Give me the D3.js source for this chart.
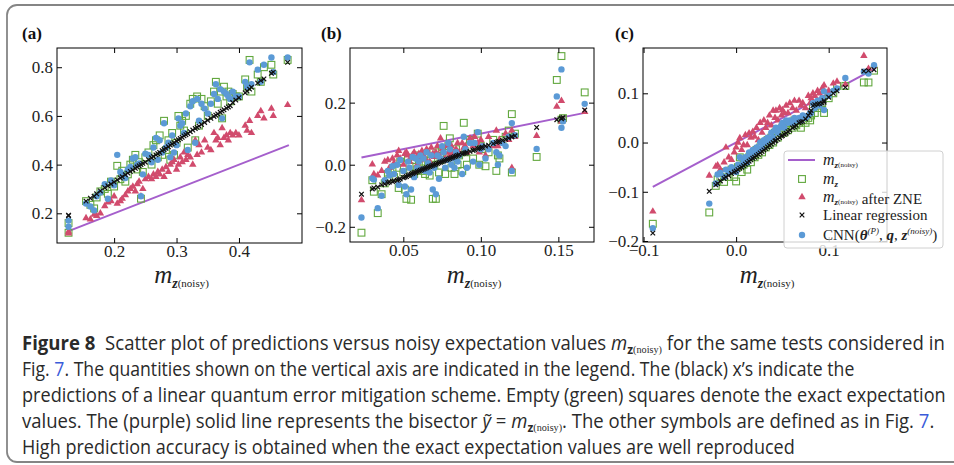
<!DOCTYPE html>
<html lang="en">
<head>
<meta charset="UTF-8" />
<title>Figure 8</title>
<script src="https://cdn.jsdelivr.net/npm/d3@7"></script>
<style>
  body { margin: 0; background: #fff; }
  svg { display: block; }
  text { white-space: pre; }
</style>
</head>
<body>
<svg id="fig" width="954" height="465"></svg>
<script>
// ---- panel (a) ----
const aNoisy = [0.127,0.127,0.155,0.162,0.168,0.172,0.178,0.185,0.190,0.195,0.200,0.205,0.210,0.213,0.218,0.222,0.226,0.230,0.234,0.237,0.240,0.243,0.246,0.250,0.255,0.260,0.263,0.267,0.270,0.273,0.277,0.280,0.283,0.287,0.290,0.293,0.296,0.300,0.303,0.306,0.309,0.312,0.315,0.318,0.322,0.326,0.330,0.333,0.336,0.340,0.345,0.350,0.355,0.360,0.363,0.366,0.370,0.373,0.376,0.380,0.383,0.386,0.390,0.395,0.400,0.410,0.413,0.417,0.420,0.430,0.435,0.440,0.452,0.455,0.478]
const aExact = [0.160,0.120,0.250,0.235,0.220,0.265,0.290,0.300,0.280,0.330,0.310,0.395,0.340,0.375,0.330,0.360,0.400,0.420,0.440,0.380,0.410,0.260,0.370,0.430,0.450,0.400,0.480,0.500,0.430,0.520,0.440,0.580,0.460,0.500,0.420,0.530,0.440,0.490,0.600,0.560,0.580,0.540,0.600,0.470,0.650,0.670,0.500,0.680,0.560,0.670,0.640,0.600,0.660,0.700,0.740,0.650,0.700,0.590,0.720,0.680,0.700,0.660,0.690,0.680,0.680,0.750,0.720,0.830,0.700,0.770,0.740,0.800,0.810,0.770,0.830]
const aZne = [0.125,0.118,0.180,0.175,0.195,0.190,0.200,0.230,0.245,0.250,0.270,0.240,0.250,0.260,0.275,0.290,0.300,0.310,0.290,0.320,0.330,0.270,0.300,0.340,0.350,0.340,0.360,0.350,0.370,0.360,0.380,0.350,0.390,0.370,0.400,0.410,0.420,0.380,0.400,0.430,0.410,0.450,0.420,0.440,0.430,0.400,0.500,0.440,0.480,0.450,0.500,0.470,0.460,0.530,0.500,0.510,0.480,0.550,0.510,0.520,0.500,0.530,0.520,0.530,0.520,0.560,0.540,0.580,0.530,0.600,0.620,0.590,0.630,0.600,0.645]
const aLinear = [0.190,0.192,0.250,0.262,0.270,0.280,0.292,0.305,0.313,0.320,0.328,0.337,0.345,0.350,0.358,0.365,0.372,0.378,0.385,0.390,0.395,0.400,0.405,0.410,0.420,0.428,0.433,0.440,0.445,0.450,0.457,0.462,0.467,0.473,0.480,0.485,0.490,0.497,0.502,0.507,0.512,0.518,0.523,0.528,0.535,0.542,0.548,0.553,0.558,0.565,0.573,0.582,0.590,0.598,0.603,0.608,0.615,0.620,0.625,0.632,0.637,0.642,0.655,0.665,0.675,0.695,0.702,0.710,0.718,0.735,0.745,0.752,0.775,0.780,0.820]
const aCnn = [0.170,0.145,0.240,0.228,0.212,0.270,0.285,0.320,0.260,0.335,0.315,0.440,0.370,0.360,0.345,0.380,0.390,0.425,0.430,0.400,0.405,0.270,0.360,0.445,0.440,0.410,0.470,0.510,0.420,0.500,0.450,0.570,0.470,0.490,0.430,0.520,0.450,0.480,0.590,0.560,0.570,0.530,0.610,0.460,0.640,0.660,0.490,0.670,0.580,0.650,0.630,0.610,0.650,0.690,0.730,0.670,0.710,0.590,0.700,0.690,0.680,0.670,0.700,0.680,0.680,0.740,0.720,0.820,0.730,0.790,0.740,0.810,0.840,0.780,0.840]
const aBisector = [0.127, 0.480]
const aXTicks = [0.2, 0.3, 0.4]
const aYTicks = [0.2, 0.4, 0.6, 0.8]

// ---- panel (b) ----
const bNoisy = [0.023,0.030,0.031,0.0335,0.036,0.038,0.040,0.041,0.043,0.044,0.046,0.047,0.048,0.050,0.051,0.052,0.053,0.054,0.055,0.056,0.057,0.058,0.059,0.060,0.061,0.062,0.063,0.064,0.065,0.066,0.067,0.068,0.069,0.070,0.071,0.072,0.073,0.074,0.075,0.076,0.077,0.078,0.079,0.080,0.081,0.082,0.083,0.084,0.085,0.086,0.088,0.089,0.090,0.091,0.093,0.095,0.096,0.098,0.099,0.100,0.101,0.103,0.105,0.108,0.110,0.111,0.112,0.114,0.116,0.118,0.120,0.120,0.122,0.136,0.149,0.152,0.152,0.153,0.167]
const bExact = [-0.219,-0.050,-0.087,-0.156,-0.095,-0.060,-0.030,-0.045,-0.020,-0.040,-0.010,-0.075,0.010,-0.025,-0.080,-0.110,0.020,-0.005,-0.113,0.015,-0.030,0.030,-0.015,0.000,0.025,-0.020,0.010,-0.030,0.035,0.000,-0.035,0.020,-0.110,0.000,-0.110,0.040,-0.025,0.015,0.050,0.125,-0.030,0.020,0.060,0.085,-0.010,0.030,-0.030,0.050,0.000,0.030,-0.020,0.135,0.040,0.000,0.080,0.020,0.060,0.100,0.000,0.060,0.050,-0.005,0.040,0.080,-0.020,0.030,0.020,0.080,0.090,0.110,0.163,-0.025,0.100,0.025,0.273,0.350,0.145,0.150,0.233]
const bZne = [-0.114,0.001,-0.030,-0.034,-0.020,0.010,0.015,-0.010,0.020,0.005,0.030,0.045,0.020,0.000,0.035,0.040,0.030,0.010,0.025,0.030,0.040,0.020,0.000,0.035,0.015,0.045,0.030,0.020,0.050,0.040,0.010,0.055,0.035,0.025,0.040,0.060,0.030,0.085,0.050,0.040,0.020,0.060,0.040,0.030,0.060,0.040,0.030,0.050,0.070,0.040,0.070,0.055,0.060,0.040,0.085,0.060,0.090,0.070,0.040,0.080,0.060,0.030,0.090,0.060,0.110,0.060,0.080,0.070,0.100,0.080,-0.010,0.110,0.090,0.093,0.187,0.206,0.140,0.145,0.170]
const bLinear = [-0.095,-0.078,-0.075,-0.072,-0.065,-0.062,-0.058,-0.056,-0.054,-0.052,-0.050,-0.048,-0.046,-0.042,-0.040,-0.038,-0.035,-0.033,-0.030,-0.028,-0.026,-0.025,-0.022,-0.020,-0.018,-0.016,-0.014,-0.012,-0.010,-0.008,-0.006,-0.004,-0.002,0.000,0.002,0.004,0.006,0.008,0.010,0.012,0.014,0.016,0.018,0.020,0.022,0.024,0.026,0.028,0.030,0.032,0.035,0.037,0.038,0.040,0.043,0.046,0.048,0.052,0.053,0.055,0.056,0.060,0.063,0.068,0.072,0.074,0.075,0.078,0.082,0.086,0.090,0.090,0.093,0.120,0.145,0.150,0.148,0.152,0.176]
const bCnn = [-0.170,-0.044,-0.048,-0.140,-0.100,-0.050,-0.020,-0.035,-0.005,-0.030,0.000,-0.065,0.015,-0.020,-0.070,-0.095,0.010,-0.010,-0.080,0.025,-0.040,0.020,-0.010,0.010,0.030,-0.015,0.020,-0.020,0.040,0.005,-0.025,0.030,-0.080,-0.010,-0.095,0.030,-0.045,0.020,0.060,0.040,-0.010,0.015,0.070,0.050,0.000,0.020,-0.010,0.040,0.010,0.030,-0.030,0.090,0.050,-0.010,0.070,0.010,0.070,0.105,0.000,0.050,0.060,0.020,0.050,0.070,0.040,0.000,0.030,0.070,0.060,0.090,0.134,-0.020,0.095,0.051,0.220,0.307,0.119,0.140,0.196]
const bBisector = [0.023, 0.167]
const bXTicks = [0.05, 0.10, 0.15]
const bYTicks = [-0.2, 0.0, 0.2]

// ---- panel (c) ----
const cNoisy = [-0.090,-0.029,-0.022,-0.020,-0.017,-0.013,-0.011,-0.008,-0.005,-0.002,0.000,0.002,0.004,0.006,0.008,0.010,0.012,0.014,0.016,0.018,0.020,0.022,0.024,0.026,0.028,0.030,0.032,0.034,0.036,0.038,0.040,0.042,0.043,0.045,0.047,0.049,0.050,0.052,0.054,0.056,0.058,0.061,0.063,0.065,0.068,0.070,0.072,0.075,0.078,0.080,0.081,0.083,0.085,0.088,0.090,0.093,0.095,0.095,0.100,0.105,0.109,0.118,0.138,0.143,0.149]
const cExact = [-0.165,-0.142,-0.088,-0.075,-0.070,-0.080,-0.060,-0.070,-0.055,-0.070,-0.079,-0.050,-0.030,-0.060,-0.045,-0.040,-0.055,-0.030,-0.040,-0.025,-0.030,-0.015,-0.025,-0.010,-0.020,0.000,-0.010,0.005,-0.005,0.010,0.000,0.020,0.015,0.010,0.025,0.020,0.030,0.020,0.035,0.025,0.040,0.030,0.045,0.035,0.040,0.030,0.045,0.040,0.050,0.045,0.055,0.070,0.060,0.075,0.070,0.080,0.060,0.095,0.090,0.100,0.115,0.115,0.122,0.122,0.146]
const cZne = [-0.140,-0.067,-0.049,-0.046,-0.055,-0.040,-0.010,-0.030,-0.035,-0.020,-0.010,0.000,0.009,-0.015,-0.005,0.015,-0.005,0.019,0.010,0.022,0.012,0.030,0.005,0.040,0.020,0.045,0.030,0.040,0.055,0.035,0.065,0.050,0.065,0.045,0.070,0.055,0.066,0.060,0.075,0.060,0.080,0.070,0.085,0.065,0.085,0.075,0.080,0.070,0.095,0.080,0.090,0.100,0.095,0.105,0.100,0.110,0.116,0.105,0.105,0.120,0.124,0.118,0.176,0.150,0.155]
const cLinear = [-0.184,-0.099,-0.086,-0.083,-0.078,-0.073,-0.070,-0.067,-0.063,-0.060,-0.058,-0.055,-0.052,-0.050,-0.047,-0.044,-0.041,-0.038,-0.035,-0.032,-0.030,-0.027,-0.024,-0.021,-0.018,-0.015,-0.012,-0.009,-0.006,-0.003,0.000,0.003,0.004,0.007,0.010,0.013,0.014,0.017,0.019,0.022,0.025,0.030,0.032,0.035,0.040,0.042,0.043,0.048,0.055,0.060,0.065,0.075,0.077,0.078,0.079,0.080,0.082,0.085,0.092,0.100,0.105,0.112,0.145,0.146,0.148]
const cCnn = [-0.174,-0.124,-0.083,-0.065,-0.062,-0.070,-0.055,-0.060,-0.050,-0.055,-0.060,-0.045,-0.030,-0.045,-0.035,-0.030,-0.040,-0.020,-0.030,-0.015,-0.020,-0.010,-0.015,0.000,-0.010,0.005,0.000,0.010,0.005,0.020,0.010,0.025,0.030,0.020,0.030,0.035,0.040,0.030,0.045,0.040,0.045,0.040,0.050,0.045,0.050,0.045,0.055,0.050,0.055,0.060,0.060,0.080,0.070,0.085,0.075,0.090,0.066,0.104,0.095,0.105,0.110,0.131,0.144,0.140,0.157]
const cBisector = [-0.090, 0.150]
const cXTicks = [-0.1, 0.0, 0.1]
const cYTicks = [-0.2, -0.1, 0.0, 0.1]

const legendLabels = ["bisector", "exact", "zne", "linear", "cnn"]

const purple = "#a55fcc", green = "#62a83e", red = "#d14b6d", blue = "#5b9ad6"
const serif = "'Liberation Serif', 'DejaVu Serif', serif"
const sans = "'Open Sans', 'Noto Sans', sans-serif"

const svg = d3.select("#fig")

// figure frame
svg.append("rect")
  .attr("x", 7).attr("y", 5).attr("width", 980).attr("height", 457)
  .attr("rx", 10).attr("fill", "none")
  .attr("stroke", "#858585").attr("stroke-width", 1.8)

// write a run of styled pieces into a text element
function pieces(text, parts) {
  parts.forEach(p => {
    const t = text.append("tspan").text(p.t)
    if (p.italic) t.attr("font-style", "italic")
    if (p.bold) t.attr("font-weight", "bold")
    if (p.size) t.attr("font-size", p.size)
    if (p.dy) t.attr("dy", p.dy)
    if (p.font) t.attr("font-family", p.font)
    if (p.fill) t.attr("fill", p.fill)
  })
  return text
}

function mNoisy(big, small, tiny) {
  return [
    { t: "m", italic: true, size: big },
    { t: "z", italic: true, bold: true, size: small, dy: big * 0.2 },
    { t: "(noisy)", size: tiny, dy: -big * 0.06 },
    { t: "", dy: -big * 0.14 }
  ]
}

function panel(o) {
  const x = d3.scaleLinear().domain(o.xDomain).range([o.left, o.right])
  const y = d3.scaleLinear().domain(o.yDomain).range([o.bottom, o.top])
  const g = svg.append("g")

  svg.append("clipPath").attr("id", "clip-" + o.name)
    .append("rect").attr("x", o.left).attr("y", o.top)
    .attr("width", o.right - o.left).attr("height", o.bottom - o.top)

  const plot = g.append("g").attr("clip-path", `url(#clip-${o.name})`)
  const rows = o.noisy.map((v, i) => ({
    x: v, exact: o.exact[i], zne: o.zne[i], lin: o.linear[i], cnn: o.cnn[i]
  }))

  plot.append("line")
    .attr("x1", x(o.bisector[0])).attr("y1", y(o.bisector[0]))
    .attr("x2", x(o.bisector[1])).attr("y2", y(o.bisector[1]))
    .attr("stroke", purple).attr("stroke-width", 2)

  plot.selectAll(".sq").data(rows).join("rect")
    .attr("x", d => x(d.x) - 3.4).attr("y", d => y(d.exact) - 3.4)
    .attr("width", 6.8).attr("height", 6.8)
    .attr("fill", "none").attr("stroke", green).attr("stroke-width", 1.1)

  const tri = d3.symbol().type(d3.symbolTriangle).size(24)
  plot.selectAll(".tri").data(rows).join("path")
    .attr("d", tri).attr("fill", red)
    .attr("transform", d => `translate(${x(d.x)},${y(d.zne)})`)

  plot.selectAll(".dot").data(rows).join("circle")
    .attr("cx", d => x(d.x)).attr("cy", d => y(d.cnn)).attr("r", 3.2)
    .attr("fill", blue)

  plot.selectAll(".xm").data(rows).join("path")
    .attr("d", "M-2.3,-2.3L2.3,2.3M-2.3,2.3L2.3,-2.3")
    .attr("stroke", "#111").attr("stroke-width", 1.2)
    .attr("transform", d => `translate(${x(d.x)},${y(d.lin)})`)

  // axes, ticks inward on all sides
  const styleAxis = a => {
    a.select(".domain").remove()
    a.selectAll("line").attr("stroke", "#000")
    a.selectAll("text").attr("font-family", serif).attr("font-size", 17).attr("fill", "#222")
  }
  g.append("g").attr("transform", `translate(0,${o.bottom})`)
    .call(d3.axisBottom(x).tickValues(o.xTicks).tickFormat(d3.format(o.xFmt))
      .tickSizeInner(-5).tickSizeOuter(0).tickPadding(2)).call(styleAxis)
  g.append("g").attr("transform", `translate(0,${o.top})`)
    .call(d3.axisTop(x).tickValues(o.xTicks).tickFormat("").tickSizeInner(-5).tickSizeOuter(0)).call(styleAxis)
  g.append("g").attr("transform", `translate(${o.left},0)`)
    .call(d3.axisLeft(y).tickValues(o.yTicks).tickFormat(d3.format(o.yFmt))
      .tickSizeInner(-5).tickSizeOuter(0).tickPadding(4)).call(styleAxis)
  g.append("g").attr("transform", `translate(${o.right},0)`)
    .call(d3.axisRight(y).tickValues(o.yTicks).tickFormat("").tickSizeInner(-5).tickSizeOuter(0)).call(styleAxis)

  g.append("rect")
    .attr("x", o.left).attr("y", o.top)
    .attr("width", o.right - o.left).attr("height", o.bottom - o.top)
    .attr("fill", "none").attr("stroke", "#000").attr("stroke-width", 1)

  pieces(g.append("text").attr("x", (o.left + o.right) / 2 + 2).attr("y", 283)
    .attr("text-anchor", "middle").attr("font-family", serif).attr("fill", "#222"),
    mNoisy(25, 14, 11))

  g.append("text").attr("x", o.labelX).attr("y", 39)
    .attr("font-family", serif).attr("font-weight", "bold").attr("font-size", 17)
    .attr("fill", "#111").text(o.label)
  return { x, y }
}

panel({ name: "a", label: "(a)", labelX: 22, left: 57, right: 302, top: 48, bottom: 243,
  xDomain: [0.1085, 0.501], yDomain: [0.078, 0.879], xTicks: aXTicks, yTicks: aYTicks,
  xFmt: ".1f", yFmt: ".1f", noisy: aNoisy, exact: aExact, zne: aZne, linear: aLinear,
  cnn: aCnn, bisector: aBisector })

panel({ name: "b", label: "(b)", labelX: 321, left: 350, right: 594, top: 48, bottom: 242,
  xDomain: [0.0156, 0.173], yDomain: [-0.249, 0.376], xTicks: bXTicks, yTicks: bYTicks,
  xFmt: ".2f", yFmt: ".1f", noisy: bNoisy, exact: bExact, zne: bZne, linear: bLinear,
  cnn: bCnn, bisector: bBisector })

panel({ name: "c", label: "(c)", labelX: 615, left: 643, right: 887, top: 48, bottom: 242,
  xDomain: [-0.1006, 0.163], yDomain: [-0.202, 0.192], xTicks: cXTicks, yTicks: cYTicks,
  xFmt: ".1f", yFmt: ".1f", noisy: cNoisy, exact: cExact, zne: cZne, linear: cLinear,
  cnn: cCnn, bisector: cBisector })

// legend of panel (c)
const leg = svg.append("g")
leg.append("rect").attr("x", 784).attr("y", 151).attr("width", 159).attr("height", 97)
  .attr("rx", 3).attr("fill", "#fff").attr("fill-opacity", 0.8)
  .attr("stroke", "#d0d0d0").attr("stroke-width", 1)
const rowY = [160, 179, 197, 215, 235]
const mx = 802
leg.append("line").attr("x1", 788).attr("x2", 815).attr("y1", rowY[0]).attr("y2", rowY[0])
  .attr("stroke", purple).attr("stroke-width", 2)
leg.append("rect").attr("x", mx - 3.4).attr("y", rowY[1] - 3.4).attr("width", 6.8).attr("height", 6.8)
  .attr("fill", "none").attr("stroke", green).attr("stroke-width", 1.1)
leg.append("path").attr("d", d3.symbol().type(d3.symbolTriangle).size(24))
  .attr("transform", `translate(${mx},${rowY[2]})`).attr("fill", red)
leg.append("path").attr("d", "M-2.3,-2.3L2.3,2.3M-2.3,2.3L2.3,-2.3")
  .attr("transform", `translate(${mx},${rowY[3]})`).attr("stroke", "#111").attr("stroke-width", 1.2)
leg.append("circle").attr("cx", mx).attr("cy", rowY[4]).attr("r", 3.2).attr("fill", blue)

const legParts = {
  bisector: mNoisy(16, 9, 7),
  exact: [{ t: "m", italic: true, size: 16 }, { t: "z", italic: true, bold: true, size: 9, dy: 3 }],
  zne: mNoisy(16, 9, 7).concat([{ t: " after ZNE", size: 15 }]),
  linear: [{ t: "Linear regression", size: 15 }],
  cnn: [
    { t: "CNN(", size: 15 },
    { t: "θ", italic: true, bold: true, size: 15 },
    { t: "(P)", italic: true, size: 9, dy: -6 },
    { t: ", ", size: 15, dy: 6 },
    { t: "q", italic: true, bold: true, size: 15 },
    { t: ", ", size: 15 },
    { t: "z", italic: true, bold: true, size: 15 },
    { t: "(noisy)", italic: true, size: 9, dy: -6 },
    { t: ")", size: 15, dy: 6 }
  ]
}
legendLabels.forEach((k, i) => {
  pieces(leg.append("text").attr("x", 823).attr("y", rowY[i] + 5)
    .attr("font-family", serif).attr("fill", "#222"), legParts[k])
})

// caption
const linkBlue = "#3a5bd9"
const zSub = [
  { t: "m", italic: true },
  { t: "z", bold: true, size: 13, dy: 4 },
  { t: "(noisy)", font: serif, size: 11, dy: -1 }
]
const captionLines = [
  { y: 350, w: 923, parts: [{ t: "Figure 8", bold: true }, { t: "  Scatter plot of predictions versus noisy expectation values " }]
      .concat(zSub, [{ t: " for the same tests considered in", dy: -3 }]) },
  { y: 376, w: 833, parts: [{ t: "Fig. " }, { t: "7", fill: linkBlue },
      { t: ". The quantities shown on the vertical axis are indicated in the legend. The (black) x\u2019s indicate the" }] },
  { y: 402, w: 924, parts: [{ t: "predictions of a linear quantum error mitigation scheme. Empty (green) squares denote the exact expectation" }] },
  { y: 428, w: 913, parts: [{ t: "values. The (purple) solid line represents the bisector " }, { t: "\u1EF9", italic: true }, { t: " = " }]
      .concat(zSub, [{ t: ". The other symbols are defined as in Fig. ", dy: -3 }, { t: "7", fill: linkBlue }, { t: "." }]) },
  { y: 454, w: 773, parts: [{ t: "High prediction accuracy is obtained when the exact expectation values are well reproduced" }] }
]
captionLines.forEach(l => {
  const g = svg.append("g").attr("transform", `translate(22,${l.y})`)
  const t = pieces(g.append("text").attr("font-family", sans).attr("font-size", 20).attr("fill", "#2a2a2a"), l.parts)
  const w = t.node().getBBox().width
  g.attr("transform", `translate(22,${l.y}) scale(${l.w / w},1)`)
})
</script>
</body>
</html>
